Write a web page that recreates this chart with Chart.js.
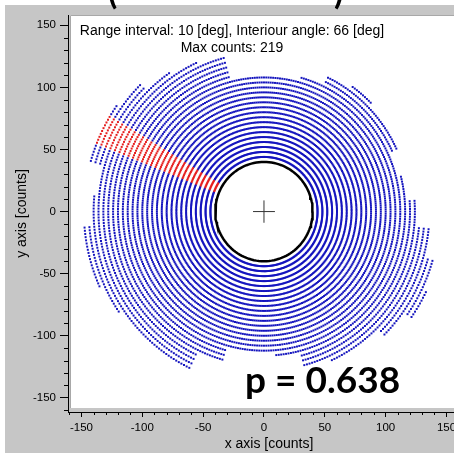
<!DOCTYPE html>
<html>
<head>
<meta charset="utf-8">
<script src="https://cdn.jsdelivr.net/npm/chart.js@4.4.1/dist/chart.umd.min.js"></script>
<style>
  html, body { margin: 0; padding: 0; overflow: hidden; background: #ffffff; width: 454px; height: 453px; }
  canvas { display: block; }
</style>
</head>
<body>
<canvas id="c" width="480" height="453"></canvas>
<script>
// ---- data ----
const ringRadii = [44, 48, 52, 56, 60, 64, 68, 72, 76, 80, 84, 88, 92, 96, 100, 104, 108, 112, 116, 120, 124, 128, 132, 136, 140, 144, 148];
const sectorAngles = [0, 10, 20, 30, 40, 50, 60, 70, 80, 90, 100, 110, 120, 130, 140, 150, 160, 170, 180, 190, 200, 210, 220, 230, 240, 250, 260, 270, 280, 290, 300, 310, 320, 330, 340, 350];
const sectorMaxRadius = [126, 116, 115, 123, 121, 124, 121, 114, 110, 111, 111, 130, 133, 138, 147, 153, 152, 137, 142, 151, 150, 146, 143, 141, 140, 126, 115, 113, 119, 128, 134, 134, 141, 149, 146, 137];
const redWedgeDeg = [149, 158];
const dotStepDeg = 1;
const innerCircleRadius = 40;
const crossHalf = 9;
const xTickLabels = [-150, -100, -50, 0, 50, 100, 150];
const yTickLabels = [-150, -100, -50, 0, 50, 100, 150];
const headerLines = ["Range interval: 10 [deg], Interiour angle: 66 [deg]", "Max counts: 219"];
const pText = "p = 0.638";

// ---- build point sets from the read values ----
const bluePts = [], redPts = [];
const rad = d => d * Math.PI / 180;
ringRadii.forEach(r => {
  for (let deg = 0; deg < 360; deg += dotStepDeg) {
    const si = Math.round(deg / 10) % sectorAngles.length;
    if (r > sectorMaxRadius[si]) continue;
    const p = { x: r * Math.cos(rad(deg)), y: r * Math.sin(rad(deg)) };
    if (deg >= redWedgeDeg[0] && deg <= redWedgeDeg[1]) redPts.push(p); else bluePts.push(p);
  }
});
const circlePts = [];
for (let deg = 0; deg <= 360; deg += 3) circlePts.push({ x: innerCircleRadius * Math.cos(rad(deg)), y: innerCircleRadius * Math.sin(rad(deg)) });

const isMajor = v => Math.abs(v % 50) < 1e-6;
const FONT = '"Liberation Sans", Arial, sans-serif';

const bgPlugin = {
  id: 'bg',
  beforeDraw(chart) {
    const { ctx, width, height } = chart;
    ctx.save();
    ctx.fillStyle = '#ffffff';
    ctx.fillRect(0, 0, width, height);
    ctx.fillStyle = '#c6c6c6';
    ctx.fillRect(5, 5, width - 5, height - 5);
    ctx.fillStyle = '#ffffff';
    ctx.fillRect(70, 15, width - 70, 393);
    ctx.strokeStyle = '#a8a8a8';
    ctx.lineWidth = 1;
    ctx.beginPath();
    ctx.moveTo(70.5, 408); ctx.lineTo(70.5, 15.5); ctx.lineTo(width, 15.5);
    ctx.stroke();
    ctx.restore();
  },
  afterDraw(chart) {
    const { ctx } = chart;
    const xs = chart.scales.x, ys = chart.scales.y;
    ctx.save();
    ctx.strokeStyle = '#000';
    ctx.lineWidth = 1;
    ctx.beginPath();
    xs.ticks.forEach(t => {
      if (isMajor(t.value)) return;
      const px = Math.round(xs.getPixelForValue(t.value)) + 0.5;
      ctx.moveTo(px, xs.top); ctx.lineTo(px, xs.top + 3);
    });
    ys.ticks.forEach(t => {
      if (isMajor(t.value)) return;
      const py = Math.round(ys.getPixelForValue(t.value)) + 0.5;
      ctx.moveTo(ys.right, py); ctx.lineTo(ys.right - 4, py);
    });
    ctx.stroke();
    // header text inside plot
    ctx.fillStyle = '#000';
    ctx.font = '14px ' + FONT;
    ctx.textAlign = 'center';
    ctx.textBaseline = 'middle';
    ctx.fillText(headerLines[0], 232, 31);
    ctx.fillText(headerLines[1], 232, 48);
    // big p value
    ctx.font = 'bold 37px Lato, "Open Sans", sans-serif';
    ctx.textAlign = 'left';
    ctx.textBaseline = 'alphabetic';
    ctx.fillText(pText, 245, 393);
    // cut-off slide title (only the bottom of the brackets is visible)
    ctx.font = 'bold 34px Lato, sans-serif';
    ctx.fillText('(', 108, 4);
    ctx.fillText(')', 334, 4);
    ctx.restore();
  }
};

new Chart(document.getElementById('c'), {
  type: 'scatter',
  data: {
    datasets: [
      { label: 'cross-h', data: [{ x: -crossHalf, y: 0 }, { x: crossHalf, y: 0 }], showLine: true, borderColor: '#333333', borderWidth: 1, pointRadius: 0, order: 0 },
      { label: 'cross-v', data: [{ x: 0, y: -crossHalf }, { x: 0, y: crossHalf }], showLine: true, borderColor: '#333333', borderWidth: 1, pointRadius: 0, order: 0 },
      { label: 'inner', data: circlePts, showLine: true, borderColor: '#000000', borderWidth: 2.5, pointRadius: 0, order: 1 },
      { label: 'red', data: redPts, pointStyle: 'rect', pointRadius: 1.4, borderWidth: 0, backgroundColor: 'rgb(230,30,30)', order: 2 },
      { label: 'blue', data: bluePts, pointStyle: 'rect', pointRadius: 1.4, borderWidth: 0, backgroundColor: 'rgb(20,20,190)', order: 3 }
    ]
  },
  options: {
    responsive: false,
    animation: false,
    events: [],
    layout: { padding: { left: 0, top: 15, right: 10, bottom: 0 } },
    plugins: { legend: { display: false }, tooltip: { enabled: false }, title: { display: false } },
    scales: {
      x: {
        type: 'linear',
        min: -161.05, max: 169.3,
        afterFit(s) { s.height = 41; },
        border: { display: true, color: '#000', width: 1 },
        grid: { drawOnChartArea: false, drawTicks: true, tickLength: 5, tickColor: c => (c.tick && isMajor(c.tick.value)) ? '#000' : 'rgba(0,0,0,0)' },
        ticks: { stepSize: 10, autoSkip: false, includeBounds: false, maxRotation: 0, padding: 4, color: '#000',
          font: { family: FONT, size: 11.5 },
          callback: v => xTickLabels.includes(v) ? String(v) : '' },
        title: { display: true, text: 'x axis [counts]', color: '#000', font: { family: FONT, size: 14 }, padding: { top: 0, bottom: 0.6 } }
      },
      y: {
        type: 'linear',
        min: -161.4, max: 158.3,
        afterFit(s) { s.width = 68; },
        border: { display: true, color: '#000', width: 1 },
        grid: { drawOnChartArea: false, drawTicks: true, tickLength: 8, tickColor: c => (c.tick && isMajor(c.tick.value)) ? '#000' : 'rgba(0,0,0,0)' },
        ticks: { stepSize: 10, autoSkip: false, includeBounds: false, padding: 4, color: '#000',
          font: { family: FONT, size: 11.5 },
          callback: v => yTickLabels.includes(v) ? String(v) : '' },
        title: { display: true, text: 'y axis [counts]', color: '#000', font: { family: FONT, size: 14 }, padding: { top: 13.6, bottom: 0 } }
      }
    }
  },
  plugins: [bgPlugin]
});
</script>
</body>
</html>
